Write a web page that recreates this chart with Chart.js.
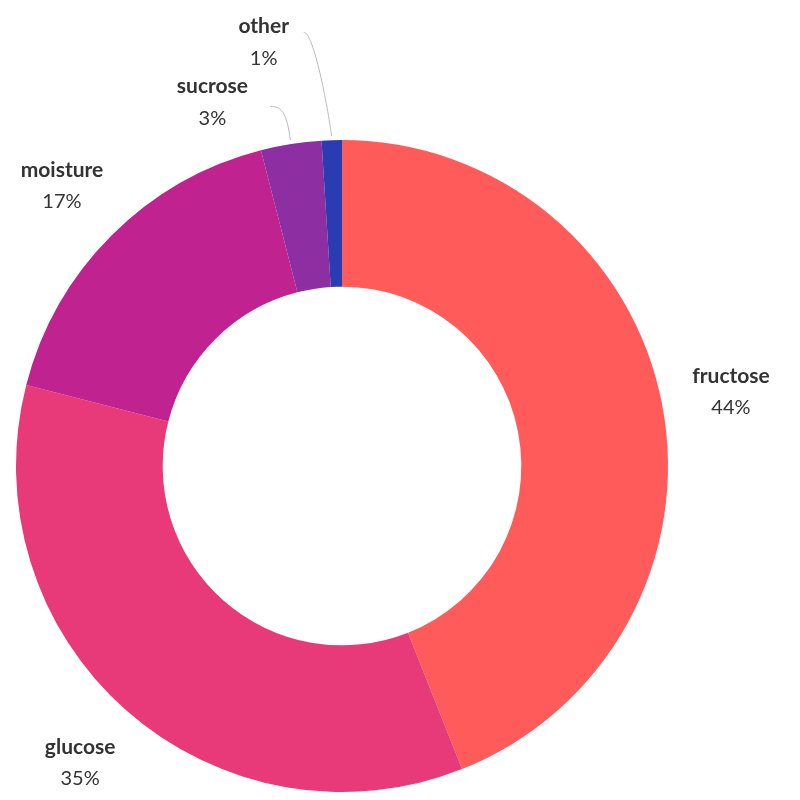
<!DOCTYPE html>
<html><head><meta charset="utf-8">
<script src="https://cdn.jsdelivr.net/npm/chart.js@4"></script>
<style>html,body{margin:0;background:#fff}#w{width:800px;height:800px}</style>
</head><body><div id="w"><canvas id="c"></canvas></div>
<script>
const categories = ["fructose","glucose","moisture","sucrose","other"];
const values = [44,35,17,3,1];
const colors = ["#ff5b5b","#e83a78","#c0228f","#8d2ea3","#2b3bb1"];

const labelPlugin = {
  id:'outLabels',
  afterDraw(chart){
    const ctx=chart.ctx, meta=chart.getDatasetMeta(0);
    ctx.save();
    meta.data.forEach((arc,i)=>{
      const mid=(arc.startAngle+arc.endAngle)/2;
      const cx=arc.x, cy=arc.y, R=arc.outerRadius;
      let lx, ly;
      if(values[i]>=5){
        lx=cx+Math.cos(mid)*(R+70); ly=cy+Math.sin(mid)*(R+70);
      } else {
        const small = i===3 ? {r:R+42,dx:-72} : {r:R+98,dx:-65};
        const ax=cx+Math.cos(mid)*(R+4), ay=cy+Math.sin(mid)*(R+4);
        lx=cx+Math.cos(mid)*small.r+small.dx; ly=cy+Math.sin(mid)*small.r;
        ctx.strokeStyle='#bbb'; ctx.lineWidth=1;
        ctx.beginPath(); ctx.moveTo(ax,ay);
        const ex = i===3 ? lx+58 : lx+40, ey = i===3 ? ly+4 : ly-10;
        ctx.bezierCurveTo(ax-4,ay-30,ex+10,ey,ex,ey);
        ctx.stroke();
      }
      ctx.fillStyle='#333'; ctx.textAlign='center'; ctx.textBaseline='middle';
      ctx.font='bold 21px Lato';
      ctx.fillText(categories[i],lx,ly-16);
      ctx.font='20px Lato';
      ctx.fillText(values[i]+'%',lx,ly+16);
    });
    ctx.restore();
  }
};

new Chart(document.getElementById('c'),{
  type:'doughnut',
  data:{labels:categories,datasets:[{data:values,backgroundColor:colors,borderWidth:0}]},
  options:{
    responsive:true,maintainAspectRatio:false,animation:false,
    cutout:'55%',
    layout:{padding:{left:16,right:132,top:140,bottom:8}},
    plugins:{legend:{display:false},tooltip:{enabled:false}}
  },
  plugins:[labelPlugin]
});
</script></body></html>
